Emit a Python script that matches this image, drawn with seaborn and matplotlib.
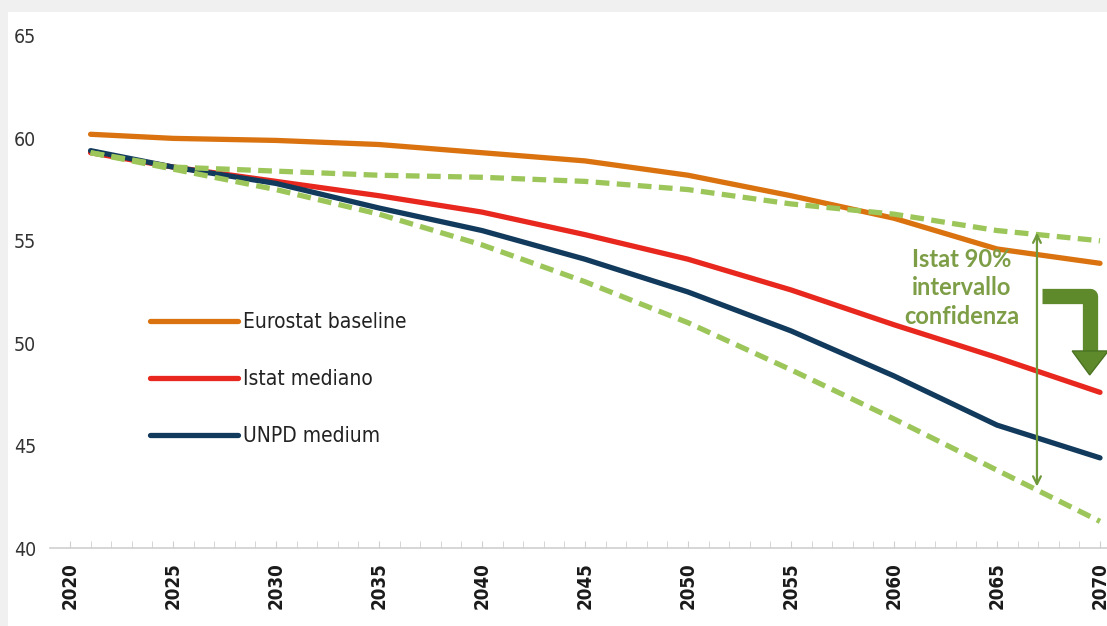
import matplotlib
matplotlib.use("Agg")
import matplotlib.pyplot as plt
from matplotlib.patches import Rectangle, Polygon
import numpy as np
import pandas as pd
import seaborn as sns

years = [2021, 2025, 2030, 2035, 2040, 2045, 2050, 2055, 2060, 2065, 2070]
eurostat = [60.2, 60.0, 59.9, 59.7, 59.3, 58.9, 58.2, 57.2, 56.1, 54.6, 53.9]
istat_med = [59.3, 58.6, 57.9, 57.2, 56.4, 55.3, 54.1, 52.6, 50.9, 49.3, 47.6]
unpd = [59.4, 58.6, 57.8, 56.6, 55.5, 54.1, 52.5, 50.6, 48.4, 46.0, 44.4]
istat_hi = [59.3, 58.6, 58.4, 58.2, 58.1, 57.9, 57.5, 56.8, 56.3, 55.5, 55.0]
istat_lo = [59.3, 58.5, 57.5, 56.3, 54.8, 53.0, 51.0, 48.7, 46.3, 43.8, 41.3]

tick_years = list(range(2020, 2071, 5))
y_ticks = [40, 45, 50, 55, 60, 65]

df = pd.DataFrame({"anno": years,
                   "Eurostat baseline": eurostat,
                   "Istat mediano": istat_med,
                   "UNPD medium": unpd,
                   "Istat alto": istat_hi,
                   "Istat basso": istat_lo})
long = df.melt(id_vars="anno", var_name="serie", value_name="valore")

colors = {"Eurostat baseline": "#d9720f", "Istat mediano": "#e8281e",
          "UNPD medium": "#123a5c", "Istat alto": "#9cc65a", "Istat basso": "#9cc65a"}
dashes = {"Eurostat baseline": "", "Istat mediano": "", "UNPD medium": "",
          "Istat alto": (2.6, 1.4), "Istat basso": (2.6, 1.4)}

sns.set_style("white")

fig = plt.figure(figsize=(11.07, 6.26), dpi=100, facecolor="#f0f0f0")
bg = Rectangle((8 / 1107, 0), 1 - 8 / 1107, 1 - 12 / 626,
               transform=fig.transFigure, facecolor="white",
               edgecolor="none", zorder=-10)
fig.patches.append(bg)
ax = fig.add_axes([50 / 1107, 78 / 626, 1057 / 1107, 536 / 626])
ax.set_zorder(5)
ax.patch.set_alpha(0)

sns.lineplot(data=long, x="anno", y="valore", hue="serie", style="serie",
             palette=colors, dashes=dashes, linewidth=3.8, ax=ax)

ax.set_xlim(2019.03, 2070.34)
ax.set_ylim(40, 66.17)
for s in ["top", "right", "left"]:
    ax.spines[s].set_visible(False)
ax.spines["bottom"].set_color("#d0d0d0")
ax.spines["bottom"].set_linewidth(1.2)

ax.set_xticks(tick_years)
ax.set_xticklabels([str(y) for y in tick_years], rotation=90, fontsize=13.5,
                   fontweight="bold", color="#1a1a1a", family="DejaVu Sans",
                   fontstretch="condensed")
ax.set_xticks(range(2020, 2071), minor=True)
ax.tick_params(axis="x", which="both", direction="in", length=5, color="#cfcfcf",
               bottom=True, pad=10)
ax.set_yticks(y_ticks)
ax.set_yticklabels([str(v) for v in y_ticks], fontsize=14, color="#333333",
                   family="DejaVu Sans", fontstretch="condensed")
ax.tick_params(axis="y", length=0, pad=10)
ax.set_xlabel("")
ax.set_ylabel("")

# legend: only the three main series
handles, labels = ax.get_legend_handles_labels()
keep = ["Eurostat baseline", "Istat mediano", "UNPD medium"]
hl = [(h, l) for h, l in zip(handles, labels) if l in keep]
leg = ax.legend([h for h, _ in hl], [l for _, l in hl], loc="upper left",
                bbox_to_anchor=(0.077, 0.475), frameon=False, handlelength=4.2,
                handletextpad=0.25, labelspacing=1.78,
                prop={"family": "DejaVu Sans", "stretch": "condensed", "size": 15})
for t in leg.get_texts():
    t.set_color("#222222")

# confidence interval annotation
x_arrow = 2066.94
ax.annotate("", xy=(x_arrow, istat_lo[-1] + 1.7), xytext=(x_arrow, istat_hi[-1] + 0.4),
            arrowprops=dict(arrowstyle="<->", color="#6f983a", lw=1.6,
                            mutation_scale=14, shrinkA=0, shrinkB=0))
ax.text(2063.3, 52.7, "Istat 90%\nintervallo\nconfidenza", ha="center", va="center",
        fontsize=17, fontweight="bold", color="#7d9e46", family=["Lato", "DejaVu Sans"],
        linespacing=1.27)

# bent arrow
ax.plot([2067.2, 2069.5, 2069.5], [52.3, 52.3, 49.6], color="#5e8a2c", lw=11,
        solid_joinstyle="round", solid_capstyle="butt", zorder=5)
ax.add_patch(Polygon([[2068.65, 49.62], [2070.4, 49.62], [2069.5, 48.45]],
                     closed=True, facecolor="#5e8a2c", edgecolor="#4a7222",
                     lw=1, zorder=6))

fig.savefig("out.png", dpi=100, facecolor=fig.get_facecolor())
